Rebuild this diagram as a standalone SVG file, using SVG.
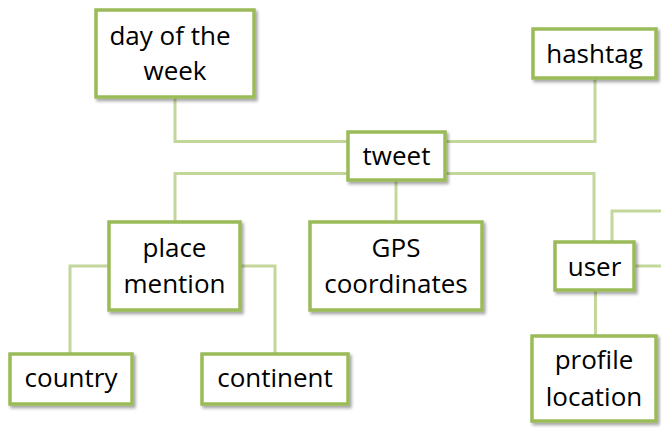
<svg xmlns="http://www.w3.org/2000/svg" width="661" height="428" viewBox="0 0 661 428">
<defs>
<filter id="sh" x="-10%" y="-10%" width="130%" height="140%">
<feDropShadow dx="2" dy="2.5" stdDeviation="1.5" flood-color="#000" flood-opacity="0.35"/>
</filter>
</defs>
<style>
.box{fill:#fff;stroke:#9BBB59;stroke-width:3.5;filter:url(#sh)}
.c{fill:none;stroke:#C3D69B;stroke-width:3}
text{font-family:"Open Sans","Liberation Sans",sans-serif;font-size:26px;fill:#000;text-anchor:middle}
</style>
<rect width="661" height="428" fill="#fff"/>
<g id="connectors">
<path class="c" d="M175 97 V141.5 H348"/>
<path class="c" d="M445 141.5 H595 V78"/>
<path class="c" d="M348 173.5 H175 V222"/>
<path class="c" d="M445 173.5 H594 V242"/>
<path class="c" d="M396 180 V222"/>
<path class="c" d="M612 242 V211 H661"/>
<path class="c" d="M634 266 H661"/>
<path class="c" d="M595.5 290 V336"/>
<path class="c" d="M109 266 H70 V354"/>
<path class="c" d="M240 266 H275 V354"/>
</g>
<g id="day"><rect class="box" x="96" y="10" width="158" height="87"/><text x="170" y="45">day of the</text><text x="175" y="80">week</text></g>
<g id="hashtag"><rect class="box" x="533" y="29" width="123" height="49"/><text x="594.5" y="63">hashtag</text></g>
<g id="tweet"><rect class="box" x="348" y="132" width="97" height="48"/><text x="396.5" y="165">tweet</text></g>
<g id="place"><rect class="box" x="109" y="222" width="131" height="88"/><text x="174.5" y="257">place</text><text x="174.5" y="293">mention</text></g>
<g id="gps"><rect class="box" x="310" y="222" width="172" height="88"/><text x="396" y="257">GPS</text><text x="396" y="293">coordinates</text></g>
<g id="user"><rect class="box" x="555" y="242" width="79" height="48"/><text x="594.5" y="276">user</text></g>
<g id="country"><rect class="box" x="10" y="354" width="122" height="50"/><text x="71" y="387">country</text></g>
<g id="continent"><rect class="box" x="202" y="354" width="146" height="50"/><text x="275" y="387">continent</text></g>
<g id="profile"><rect class="box" x="532" y="336" width="124" height="85"/><text x="594" y="369">profile</text><text x="594" y="406">location</text></g>
</svg>
